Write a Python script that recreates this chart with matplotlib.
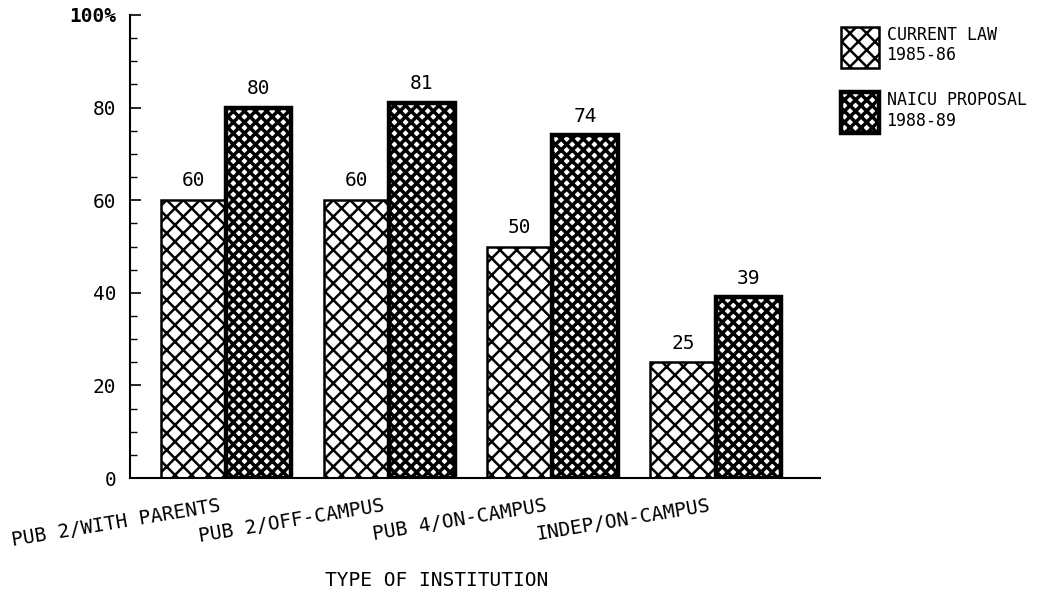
import matplotlib
matplotlib.use("Agg")
import matplotlib.pyplot as plt
import matplotlib.transforms as mtransforms
from matplotlib.patches import Patch
import numpy as np

# data
institutions = ["PUB 2/WITH PARENTS", "PUB 2/OFF-CAMPUS", "PUB 4/ON-CAMPUS", "INDEP/ON-CAMPUS"]
current_law = [60, 60, 50, 25]
naicu_proposal = [80, 81, 74, 39]
series_names = ["CURRENT LAW\n1985-86", "NAICU PROPOSAL\n1988-89"]
y_ticks = [0, 20, 40, 60, 80, 100]
y_tick_labels = ["0", "20", "40", "60", "80", "100%"]

plt.rcParams['font.family'] = ['DejaVu Sans Mono', 'DejaVu Sans']
plt.rcParams['font.size'] = 14

fig = plt.figure(figsize=(10.55, 5.92), dpi=100)
ax = fig.add_axes([130 / 1055, 1 - 478 / 592, 690 / 1055, 463 / 592])

x = np.arange(len(institutions))
width = 0.4
light_hw = 1.8
dark_hw = 2.5

with plt.rc_context({'hatch.linewidth': light_hw}):
    bars1 = ax.bar(x - width / 2, current_law, width, facecolor='white',
                   edgecolor='black', linewidth=1.8, hatch='xx')
with plt.rc_context({'hatch.linewidth': dark_hw}):
    bars2 = ax.bar(x + width / 2, naicu_proposal, width, facecolor='white',
                   edgecolor='black', linewidth=3.2, hatch='xxx')

for b in bars1:
    if hasattr(b, 'set_hatch_linewidth'):
        b.set_hatch_linewidth(light_hw)
for b in bars2:
    if hasattr(b, 'set_hatch_linewidth'):
        b.set_hatch_linewidth(dark_hw)

ax.bar_label(bars1, labels=[str(v) for v in current_law], padding=7)
ax.bar_label(bars2, labels=[str(v) for v in naicu_proposal], padding=7)

ax.set_xlim(-0.59, 3.64)
ax.set_ylim(0, 100)

# axes look
for s in ['top', 'right']:
    ax.spines[s].set_visible(False)
ax.spines['left'].set_linewidth(1.5)
ax.spines['bottom'].set_linewidth(1.5)

ax.set_yticks(y_ticks)
ax.set_yticklabels(y_tick_labels)
ax.set_yticks(np.arange(0, 101, 5), minor=True)
ax.tick_params(axis='y', which='major', direction='in', length=8, width=1.2, pad=10)
ax.tick_params(axis='y', which='minor', direction='in', length=5, width=1.0)
ax.get_yticklabels()[-1].set_fontweight('bold')

ax.set_xticks(x)
ax.set_xticklabels(institutions, rotation=9.5, ha='right', va='top',
                   rotation_mode='anchor')
ax.tick_params(axis='x', length=0, pad=13)
shift = mtransforms.ScaledTranslation(-0.07, 0, fig.dpi_scale_trans)
for lbl in ax.get_xticklabels():
    lbl.set_transform(lbl.get_transform() + shift)

ax.set_xlabel("TYPE OF INSTITUTION")
ax.xaxis.set_label_coords(0.445, -0.2)

# legend
handles = [Patch(facecolor='white', edgecolor='black', linewidth=1.8, hatch='xx'),
           Patch(facecolor='white', edgecolor='black', linewidth=3.2, hatch='xxx')]
leg = fig.legend(handles, series_names, loc='upper left',
                 bbox_to_anchor=(829 / 1055, 1 - 14 / 592), frameon=False,
                 handlelength=2.3, handleheight=3.4, handletextpad=0.45,
                 labelspacing=1.4, borderpad=0.2, fontsize=12)
for p, w in zip(leg.get_patches(), [light_hw, dark_hw]):
    if hasattr(p, 'set_hatch_linewidth'):
        p.set_hatch_linewidth(w)

fig.savefig("out.png", dpi=100)
